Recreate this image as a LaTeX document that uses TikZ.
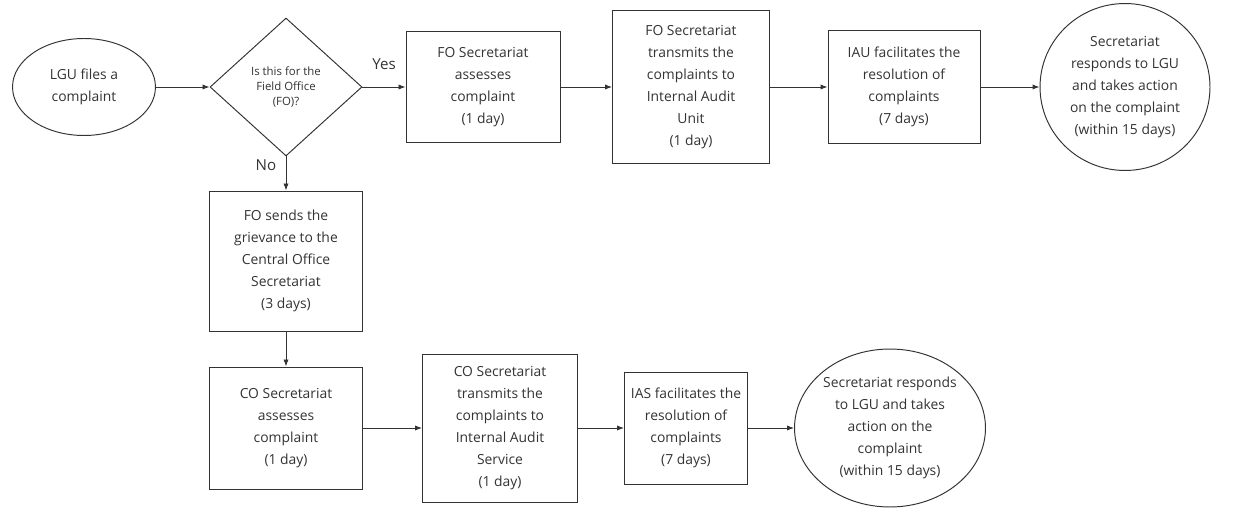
\documentclass[tikz,border=0pt]{standalone}
\usepackage{fontspec}
\setmainfont{Open Sans}
\usetikzlibrary{shapes.geometric,arrows.meta}
\definecolor{ink}{gray}{0.2}
\tikzset{
  stepbox/.style={draw=ink,rectangle,align=center,inner sep=0pt,text=ink,
    font=\fontsize{7.9}{12.5}\selectfont},
  endoval/.style={draw=ink,ellipse,align=center,inner sep=0pt,text=ink,
    font=\fontsize{7.9}{12.5}\selectfont},
  query/.style={draw=ink,diamond,align=center,inner sep=0pt,text=ink,
    font=\fontsize{6.5}{8.4}\selectfont},
  flow/.style={-{Latex[length=4pt,width=3pt]},draw=ink,line width=0.55pt},
  tag/.style={text=ink,font=\fontsize{8.6}{10}\selectfont}
}
\begin{document}
\begin{tikzpicture}[x=0.02cm,y=-0.02cm,line width=0.55pt]
  \useasboundingbox (0,0) rectangle (1243,513);
  % top row: field office
  \node[endoval,minimum width=2.86cm,minimum height=1.94cm] (lgu) at (84,87) {LGU files a\\complaint};
  \node[query,minimum width=3.04cm,minimum height=2.76cm] (isfo) at (286,87) {Is this for the\\Field Office\\(FO)?};
  \node[stepbox,minimum width=3.08cm,minimum height=2.22cm] (foassess) at (483,87) {FO Secretariat\\assesses\\complaint\\(1 day)};
  \node[stepbox,minimum width=3.14cm,minimum height=3.06cm] (fosend) at (691,87) {FO Secretariat\\transmits the\\complaints to\\Internal Audit\\Unit\\(1 day)};
  \node[stepbox,minimum width=3.04cm,minimum height=2.26cm] (iau) at (904,87) {IAU facilitates the\\resolution of\\complaints\\(7 days)};
  \node[endoval,minimum width=3.4cm,minimum height=3.34cm] (foreply) at (1125,87) {Secretariat\\responds to LGU\\and takes action\\on the complaint\\(within 15 days)};
  % down to central office
  \node[stepbox,minimum width=3.06cm,minimum height=2.8cm] (fofwd) at (286,261) {FO sends the\\grievance to the\\Central Office\\Secretariat\\(3 days)};
  % bottom row: central office
  \node[stepbox,minimum width=3.06cm,minimum height=2.44cm] (coassess) at (286,428) {CO Secretariat\\assesses\\complaint\\(1 day)};
  \node[stepbox,minimum width=3.1cm,minimum height=2.96cm] (cosend) at (500,428) {CO Secretariat\\transmits the\\complaints to\\Internal Audit\\Service\\(1 day)};
  \node[stepbox,minimum width=2.46cm,minimum height=2.24cm] (ias) at (686,428) {IAS facilitates the\\resolution of\\complaints\\(7 days)};
  \node[endoval,minimum width=3.82cm,minimum height=3.16cm] (coreply) at (890,428) {Secretariat responds\\to LGU and takes\\action on the\\complaint\\(within 15 days)};

  \draw[flow] (lgu) -- (isfo);
  \draw[flow] (isfo) -- node[tag,above=6pt]{Yes} (foassess);
  \draw[flow] (foassess) -- (fosend);
  \draw[flow] (fosend) -- (iau);
  \draw[flow] (iau) -- (foreply);
  \draw[flow] (isfo) -- node[tag,pos=0.25,left=2pt]{No} (fofwd);
  \draw[flow] (fofwd) -- (coassess);
  \draw[flow] (coassess) -- (cosend);
  \draw[flow] (cosend) -- (ias);
  \draw[flow] (ias) -- (coreply);
\end{tikzpicture}
\end{document}
